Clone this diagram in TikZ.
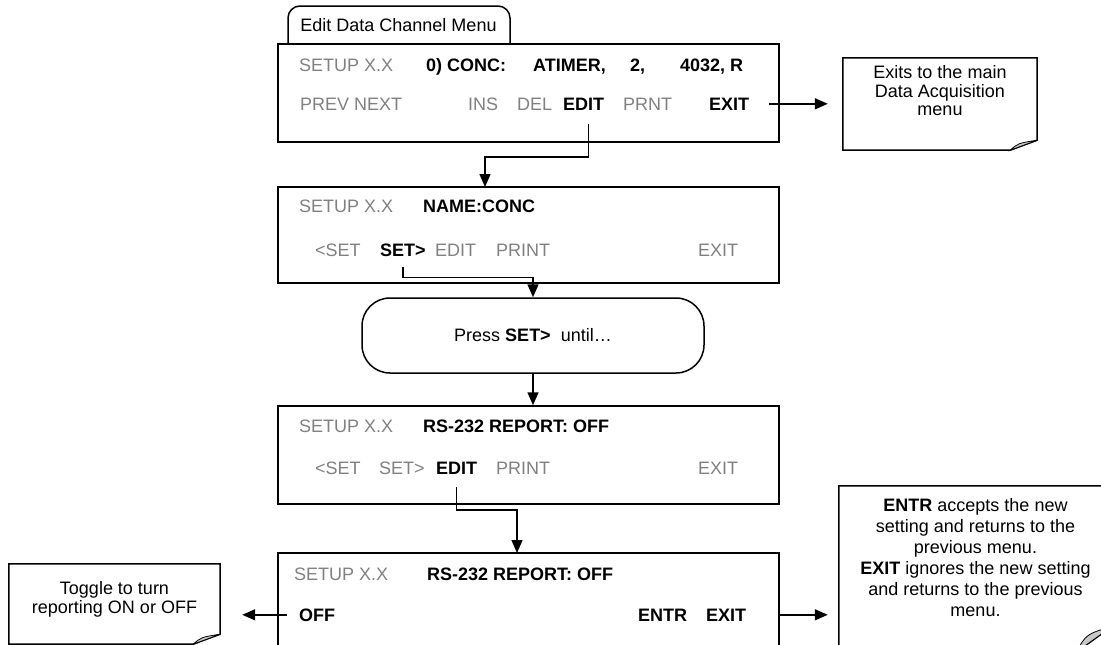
\documentclass[tikz,border=0pt]{standalone}
\usepackage{fontspec}
\setmainfont{Liberation Sans}
\usetikzlibrary{arrows.meta,positioning}
\definecolor{lcdgray}{RGB}{128,128,128}
\definecolor{curlgray}{RGB}{200,200,200}

\tikzset{
  edge/.style={line width=1.5pt},
  scr/.style={draw, line width=1.5pt, inner sep=0pt, minimum width=501pt},
  soft/.style={anchor=base west, inner sep=0pt, text=lcdgray},
  hard/.style={anchor=base west, inner sep=0pt, font=\fontsize{18}{21}\selectfont\bfseries},
  arr/.style={line width=1.5pt, -{Triangle[length=13pt,width=11pt]}},
  note/.style={inner sep=0pt},
  notetxt/.style={align=center, inner sep=0pt},
  curl/.style={fill=curlgray, line width=0.8pt}
}

\begin{document}
\begin{tikzpicture}[x=1pt,y=-1pt,font=\fontsize{18}{21}\selectfont]
        \useasboundingbox (0,0) rectangle (1101,645);

        % tab
        \draw[edge, rounded corners=12pt] (288,44) -- (288,6) -- (510,6) -- (510,44);
        \node[anchor=base, inner sep=0pt] (tab) at (398.5,31.5) {Edit Data Channel Menu};

        % screens
        \node[scr, minimum height=98pt] (box1) at (528.5,93) {};
        \node[scr, minimum height=96pt] (box2) at (528.5,235) {};
        \node[scr, minimum height=98pt] (box3) at (528.5,455) {};
        \node[scr, minimum height=98pt] (box4) at (528.5,602) {};

        % screen 1
        \node[soft] (setup1) at (299,71) {SETUP X.X};
        \node[hard] (conc1) at (426,71) {0) CONC:};
        \node[hard] (timer1) at (533,71) {ATIMER,};
        \node[hard] (two1) at (630,71) {2,};
        \node[hard] (code1) at (680,71) {4032, R};
        \node[soft] (prev1) at (300,110) {PREV NEXT};
        \node[soft] (ins1) at (468,110) {INS};
        \node[soft] (del1) at (517,110) {DEL};
        \node[hard] (edit1) at (563,110) {EDIT};
        \node[soft] (prnt1) at (623,110) {PRNT};
        \node[hard] (exit1) at (709,110) {EXIT};

        % screen 2
        \node[soft] (setup2) at (299,212) {SETUP X.X};
        \node[hard] (name2) at (423,212) {NAME:CONC};
        \node[soft] (prevset2) at (315,256) {<SET};
        \node[hard] (set2) at (380,256) {SET>};
        \node[soft] (edit2) at (435,256) {EDIT};
        \node[soft] (print2) at (496,256) {PRINT};
        \node[soft] (exit2) at (698,256) {EXIT};

        % press button
        \node[draw, edge, rounded corners=28pt, minimum width=342pt, minimum height=75pt] (btn) at (533,335.5) {Press \textbf{SET>}\ \ until…};

        % screen 3
        \node[soft] (setup3) at (299,432) {SETUP X.X};
        \node[hard] (rep3) at (423,432) {RS-232 REPORT: OFF};
        \node[soft] (prevset3) at (315,474) {<SET};
        \node[soft] (set3) at (379,474) {SET>};
        \node[hard] (edit3) at (436,474) {EDIT};
        \node[soft] (print3) at (496,474) {PRINT};
        \node[soft] (exit3) at (698,474) {EXIT};

        % screen 4
        \node[soft] (setup4) at (294,580) {SETUP X.X};
        \node[hard] (rep4) at (427,580) {RS-232 REPORT: OFF};
        \node[hard] (off4) at (299,621) {OFF};
        \node[hard] (entr4) at (638,621) {ENTR};
        \node[hard] (exit4) at (706,621) {EXIT};

        % notes
        \node[note, minimum width=194pt, minimum height=92pt] (note1) at (940,104) {};
        \node[notetxt, font=\fontsize{18}{18.5}\selectfont, below=7.5pt of note1.north] (note1txt) {Exits to the main\\Data Acquisition\\menu};
        \draw[edge] (note1.north west) -- (note1.north east) -- ([yshift=10pt]note1.south east) -- ([xshift=-27pt]note1.south east) -- (note1.south west) -- cycle;
        \filldraw[curl] ([xshift=-27pt]note1.south east) .. controls ([xshift=-19pt,yshift=7pt]note1.south east) .. ([yshift=10pt]note1.south east) -- cycle;

        \node[note, minimum width=211pt, minimum height=80pt] (note2) at (114.5,604) {};
        \node[notetxt, font=\fontsize{18}{19}\selectfont, below=17.5pt of note2.north] (note2txt) {Toggle to turn\\reporting ON or OFF};
        \draw[edge] (note2.north west) -- (note2.north east) -- ([yshift=10pt]note2.south east) -- ([xshift=-27pt]note2.south east) -- (note2.south west) -- cycle;
        \filldraw[curl] ([xshift=-27pt]note2.south east) .. controls ([xshift=-19pt,yshift=7pt]note2.south east) .. ([yshift=10pt]note2.south east) -- cycle;

        \node[note, minimum width=273pt, minimum height=166pt] (note3) at (975.5,569) {};
        \node[notetxt, font=\fontsize{18}{21}\selectfont, below=12.5pt of note3.north] (note3txt) {\textbf{ENTR} accepts the new\\setting and returns to the\\previous menu.\\\textbf{EXIT} ignores the new setting\\and returns to the previous\\menu.};
        \draw[edge] (note3.north west) -- (note3.north east) -- ([yshift=26pt]note3.south east) -- ([xshift=-36pt]note3.south east) -- (note3.south west) -- cycle;
        \filldraw[curl] ([xshift=-36pt]note3.south east) .. controls ([xshift=-26pt,yshift=18pt]note3.south east) .. ([yshift=26pt]note3.south east) -- cycle;

        % connectors
        \coordinate (in2) at (485,187);
        \coordinate (in4) at (517,553);
        \draw[arr] ([xshift=5pt,yshift=-14pt]edit1.south) -- ++(0,33) -| (in2);
        \draw[arr] ([yshift=-11pt]set2.south) -- ++(0,10) -| (btn.north);
        \draw[arr] (btn.south) -- (btn.south |- box3.north);
        \draw[arr] ([yshift=-13pt]edit3.south) -- ++(0,23) -| (in4);
        \draw[arr, shorten >=15pt] ([xshift=20pt]exit1.east) -- (exit1.east -| note1.west);
        \draw[arr, shorten >=22pt] ([xshift=-12pt]off4.west) -- (off4.west -| note2.east);
        \draw[arr, shorten >=11pt] (exit4.east -| box4.east) -- (exit4.east -| note3.west);
    \end{tikzpicture}
\end{document}
